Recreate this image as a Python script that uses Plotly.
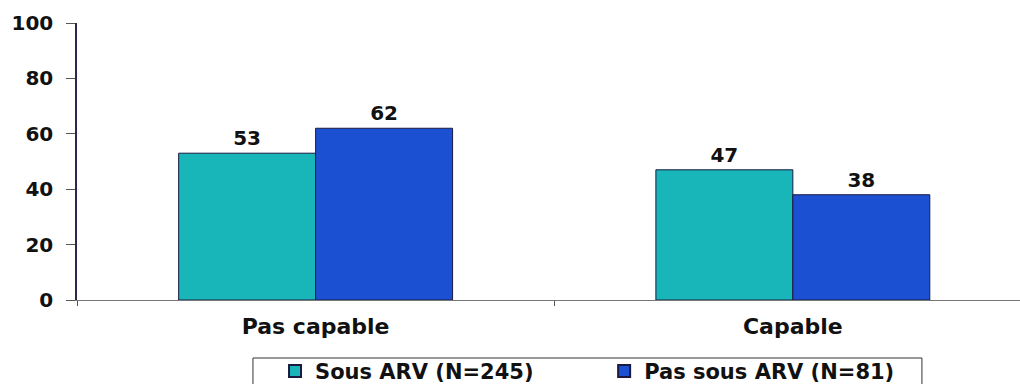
import plotly.graph_objects as go

categories = ["Pas capable", "Capable"]
sous_arv = [53, 47]
pas_sous_arv = [62, 38]
series_names = ["Sous ARV (N=245)", "Pas sous ARV (N=81)"]
y_ticks = [0, 20, 40, 60, 80, 100]

teal = "#19B6B9"
blue = "#1B50D2"
outline = "#1A1A40"
FAMILY = "DejaVu Sans"


def bold(size):
    return dict(family=FAMILY, size=size, color="#111111", weight="bold")


fig = go.Figure()
traces = [(series_names[0], sous_arv, teal, "legend"),
          (series_names[1], pas_sous_arv, blue, "legend2")]
for name, vals, col, leg in traces:
    fig.add_trace(go.Bar(
        x=categories, y=vals, name=name, legend=leg,
        marker=dict(color=col, line=dict(color=outline, width=1)),
        text=[str(v) for v in vals], textposition="outside",
        textfont=bold(20),
        cliponaxis=False,
    ))

legend_common = dict(
    orientation="h", xanchor="left", yanchor="top", y=-0.184,
    borderwidth=0, bgcolor="rgba(0,0,0,0)",
    font=bold(21), itemsizing="constant",
)

fig.update_layout(
    width=1020, height=384,
    margin=dict(l=77, r=0, t=23, b=84, autoexpand=False),
    paper_bgcolor="white", plot_bgcolor="white",
    barmode="group", bargap=0.426, bargroupgap=0,
    font=bold(20),
    showlegend=True,
    legend=dict(x=0.210, **legend_common),
    legend2=dict(x=0.559, **legend_common),
    # frame around both legend entries
    shapes=[dict(
        type="rect", xref="paper", yref="paper",
        x0=0.1866, x1=0.896, y0=-0.2094, y1=-0.38,
        line=dict(color="#333333", width=1), fillcolor="rgba(0,0,0,0)",
        layer="below",
    )],
)
fig.update_xaxes(
    type="category", range=[-0.5, 1.476],
    tickson="boundaries", ticks="outside", ticklen=5, tickcolor="#555555",
    showline=True, linecolor="#777777", linewidth=1,
    showgrid=False, tickfont=bold(22), ticklabelstandoff=7,
)
fig.update_yaxes(
    range=[0, 100], tickvals=y_ticks, ticks="outside", ticklen=9, tickcolor="#555555",
    showline=True, linecolor="#2A2A50", linewidth=1.5,
    showgrid=False, zeroline=False,
    tickfont=bold(20), ticklabelstandoff=9,
)

fig.write_html("out.html")
